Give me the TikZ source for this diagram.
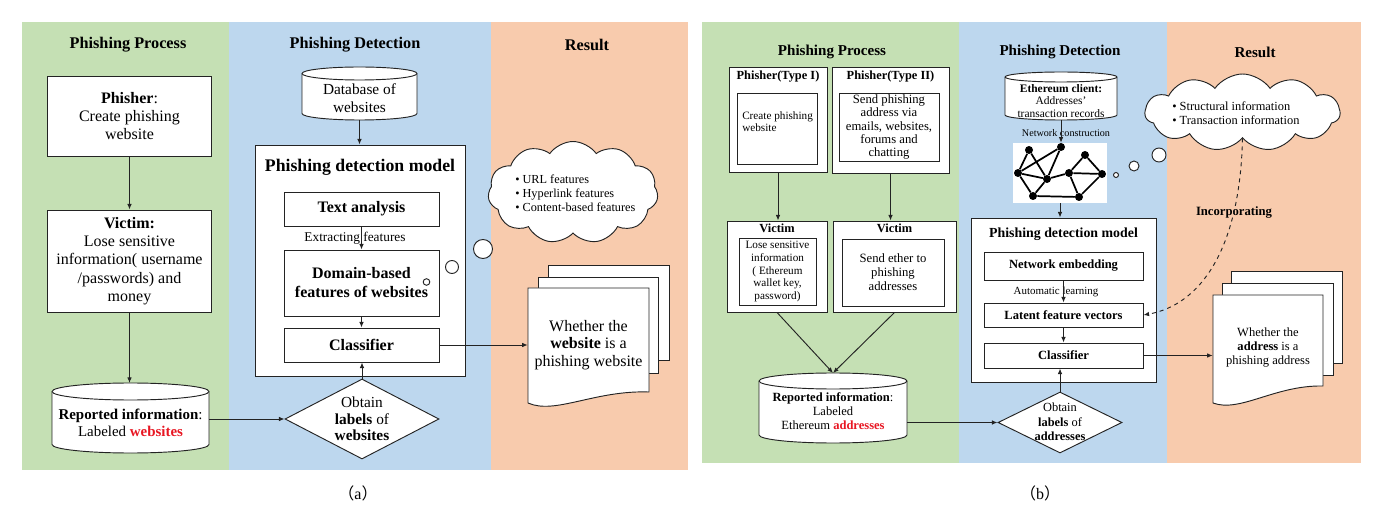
\documentclass[tikz,border=0pt]{standalone}
\usepackage{fontspec}
\setmainfont{Liberation Serif}
\newfontfamily\cjk{Noto Sans CJK SC}
\usetikzlibrary{arrows.meta,shapes.geometric,shapes.symbols,calc}
\newlength\pu
\setlength\pu{0.75pt}
\newcommand\myfs[2]{\fontsize{#1}{#2}\selectfont}
\newcommand\drawcyl[3]{% node name, x radius, y radius (px)
  \draw[ln, fill=white] ($(#1.north west)+(0,#3)$) -- ($(#1.south west)+(0,-#3)$)
    arc[start angle=180, end angle=0, x radius=#2, y radius=#3]
    -- ($(#1.north east)+(0,#3)$)
    arc[start angle=0, end angle=-180, x radius=#2, y radius=#3] -- cycle;
  \draw[ln] ($(#1.north west)+(0,#3)$) arc[start angle=180, end angle=0, x radius=#2, y radius=#3];
}
\definecolor{bgG}{RGB}{197,224,180}
\definecolor{bgB}{RGB}{189,215,238}
\definecolor{bgP}{RGB}{248,203,173}
\definecolor{redT}{RGB}{232,22,34}
\definecolor{lineC}{RGB}{35,35,35}
\tikzset{
  ln/.style={draw=lineC, line width=0.7pt},
  box/.style={ln, fill=white, inner sep=0pt, align=center},
  txt/.style={inner sep=0pt, align=center},
  arr/.style={ln, -{Latex[length=4.2pt,width=3.4pt]}},
  cylnode/.style={inner sep=0pt, outer sep=0pt},
  dia/.style={diamond, ln, fill=white, inner sep=0pt},
  cld/.style={cloud, cloud puffs=11, cloud puff arc=110, cloud ignores aspect, ln, fill=white, inner sep=0pt},
  bub/.style={circle, ln, fill=white, inner sep=0pt},
  gdot/.style={circle, fill=black, inner sep=0pt, minimum size=8\pu},
  gedge/.style={draw=black, line width=1.3pt},
  page/.style={ln, fill=white},
  ttlA/.style={txt, font=\bfseries\myfs{12.2}{14}},
  ttlB/.style={txt, font=\bfseries\myfs{11.3}{13}},
}
\begin{document}
\begin{tikzpicture}[x=0.75pt,y=-0.75pt]
\useasboundingbox (0,0) rectangle (1388,509);
\fill[white] (0,0) rectangle (1388,509);
% ---------------- backgrounds
\fill[bgG] (22,22) rectangle (229,470);
\fill[bgB] (229,22) rectangle (491,470);
\fill[bgP] (491,22) rectangle (688,470);
\fill[bgG] (702,22) rectangle (959,463);
\fill[bgB] (959,22) rectangle (1167,463);
\fill[bgP] (1167,22) rectangle (1361,463);

% ================= panel (a)
\node[ttlA] (tA1) at (128,45) {Phishing Process};
\node[ttlA] (tA2) at (355,45) {Phishing Detection};
\node[ttlA] (tA3) at (587,45) {Result};

\node[box, minimum width=164\pu, minimum height=80\pu, font=\myfs{12}{13.5}] (phA) at (129.5,116) {\textbf{Phisher}:\\Create phishing\\website};
\node[box, minimum width=164\pu, minimum height=102\pu, font=\myfs{12}{13.8}] (viA) at (129.5,261) {\textbf{Victim:}\\Lose sensitive\\information( username\\/passwords) and\\money};
\node[cylnode, minimum width=157\pu, minimum height=70\pu] (repA) at (130.5,418) {};
\drawcyl{repA}{78.5}{8.5}
\node[txt, font=\myfs{11.2}{12.8}] (repAt) at (130.5,423) {\textbf{Reported information}:\\Labeled \textcolor{redT}{\textbf{websites}}};

\node[cylnode, minimum width=115\pu, minimum height=53\pu] (dbA) at (359.5,93.5) {};
\drawcyl{dbA}{57.5}{6.5}
\node[txt, font=\myfs{11.5}{13.5}] (dbAt) at (359.5,98.5) {Database of\\websites};

\node[box, minimum width=210\pu, minimum height=231\pu] (mdA) at (360,260.5) {};
\node[txt, font=\bfseries\myfs{13.3}{15}] (mdAt) at (360,167) {Phishing detection model};
\node[box, minimum width=155\pu, minimum height=34\pu, font=\bfseries\myfs{12}{14}] (taA) at (361.5,209) {Text analysis};
\node[txt, font=\myfs{10}{12}] (exA) at (355,238) {Extracting features};
\node[box, minimum width=155\pu, minimum height=66\pu, font=\bfseries\myfs{12}{14.2}] (doA) at (361.5,283) {Domain-based\\features of websites};
\node[box, minimum width=155\pu, minimum height=34\pu, font=\bfseries\myfs{12}{14}] (clA) at (361.5,345) {Classifier};
\node[dia, minimum width=154\pu, minimum height=80\pu] (diA) at (362,419) {};
\node[txt, font=\myfs{11.5}{12.4}] (diAt) at (362,419) {Obtain\\\textbf{labels} of\\\textbf{websites}};

\node[bub, minimum size=6.6\pu] (bA1) at (426.5,282) {};
\node[bub, minimum size=13\pu] (bA2) at (452,267) {};
\node[bub, minimum size=19\pu] (bA3) at (483,249) {};
\node[cld, minimum width=170\pu, minimum height=102\pu] (cA) at (573,192.5) {};
\node[txt, align=left, anchor=west, font=\myfs{9.2}{10.5}] (cAt) at (515,193) {\textbullet\ URL features\\\textbullet\ Hyperlink features\\\textbullet\ Content-based features};

\draw[page] (548,265) rectangle (669,360);
\draw[page] (538,277) rectangle (658,373);
\draw[page] (528,288) -- (649,288) -- (649,392) .. controls (595,390) and (555,415) .. (528,403) -- cycle;
\node[txt, minimum width=121\pu, minimum height=110\pu, font=\myfs{12}{13.3}] (dfA) at (588.5,345) {Whether the\\\textbf{website} is a\\phishing website};

\draw[arr] (phA) -- (viA);
\draw[arr] (viA.south) -- (viA.south |- repA.north);
\draw[arr] (repA.east |- diA.west) -- (diA.west);
\draw[arr] (dbA.south) -- (dbA.south |- mdA.north);
\draw[arr] (taA) -- (doA);
\draw[arr] (doA) -- (clA);
\draw[arr] (diA.north) -- (diA.north |- clA.south);
\draw[arr] (clA.east) -- (clA.east -| dfA.west);

\node[txt, font=\myfs{12}{14}] (capA) at (358,493) {{\cjk （}a{\cjk ）}};

% ================= panel (b)
\node[ttlB] (tB1) at (832,52) {Phishing Process};
\node[ttlB] (tB2) at (1060,52) {Phishing Detection};
\node[ttlB] (tB3) at (1255,52) {Result};

\node[box, minimum width=98\pu, minimum height=105\pu] (phB1) at (778,119.5) {};
\node[txt, font=\bfseries\myfs{9.3}{11}] (phB1t) at (778,77) {Phisher(Type I)};
\node[box, minimum width=80\pu, minimum height=71\pu] (phB1i) at (777,128.5) {};
\node[txt, align=left, anchor=west, font=\myfs{8.4}{9.2}] (phB1x) at (742,122) {Create phishing\\website};

\node[box, minimum width=117\pu, minimum height=106\pu] (phB2) at (890.5,120) {};
\node[txt, font=\bfseries\myfs{9.3}{11}] (phB2t) at (890.5,77) {Phisher(Type II)};
\node[box, minimum width=100\pu, minimum height=68\pu, font=\myfs{9.5}{10.1}] (phB2i) at (889,127) {Send phishing\\address via\\emails, websites,\\forums and\\chatting};

\node[box, minimum width=100\pu, minimum height=91\pu] (viB1) at (777,266.5) {};
\node[txt, font=\bfseries\myfs{9.3}{11}] (viB1t) at (777,228) {Victim};
\node[box, minimum width=77\pu, minimum height=67\pu, font=\myfs{8.4}{9.4}] (viB1i) at (777.5,271.5) {Lose sensitive\\information\\( Ethereum\\wallet key,\\password)};

\node[box, minimum width=123\pu, minimum height=91\pu] (viB2) at (894.5,266.5) {};
\node[txt, font=\bfseries\myfs{9.3}{11}] (viB2t) at (894.5,228) {Victim};
\node[box, minimum width=102\pu, minimum height=67\pu, font=\myfs{9.5}{10.5}] (viB2i) at (893,272.5) {Send ether to\\phishing\\addresses};

\node[cylnode, minimum width=148\pu, minimum height=70\pu] (repB) at (833,408) {};
\drawcyl{repB}{74}{8}
\node[txt, font=\myfs{9.4}{10.5}] (repBt) at (833,411.5) {\textbf{Reported information}:\\Labeled\\Ethereum \textcolor{redT}{\textbf{addresses}}};

\node[dia, minimum width=124\pu, minimum height=61\pu] (diB) at (1060,422.5) {};
\node[txt, font=\myfs{9.3}{10.8}] (diBt) at (1060,422) {Obtain\\\textbf{labels} of\\\textbf{addresses}};

\node[cylnode, minimum width=112\pu, minimum height=48\pu] (ecB) at (1061,96) {};
\drawcyl{ecB}{56}{5}
\node[txt, font=\myfs{8.6}{9.2}] (ecBt) at (1061,101) {\textbf{Ethereum client:}\\Addresses’\\transaction records};
\node[txt, font=\myfs{7.6}{9}] (ncB) at (1066,133) {Network construction};

\node[fill=white, inner sep=0pt, minimum width=94\pu, minimum height=60\pu] (gB) at (1060,173) {};
\node[gdot] (g1) at (1029,150) {};
\node[gdot] (g2) at (1061,147) {};
\node[gdot] (g3) at (1018,173) {};
\node[gdot] (g4) at (1047,179) {};
\node[gdot] (g5) at (1069,173) {};
\node[gdot] (g6) at (1085,155) {};
\node[gdot] (g7) at (1102,174) {};
\node[gdot] (g8) at (1033,196) {};
\node[gdot] (g9) at (1079,197) {};
\draw[gedge] (g1) -- (g3) (g1) -- (g4) (g2) -- (g3) (g2) -- (g4) (g3) -- (g4)
  (g3) -- (g8) (g4) -- (g8) (g4) -- (g5) (g5) -- (g6) (g6) -- (g7) (g5) -- (g7)
  (g5) -- (g9) (g9) -- (g7) (g8) -- (g9);

\node[box, minimum width=185\pu, minimum height=164\pu] (mdB) at (1063.5,300) {};
\node[txt, font=\bfseries\myfs{10.4}{12}] (mdBt) at (1063.5,234) {Phishing detection model};
\node[box, minimum width=159\pu, minimum height=28\pu, font=\bfseries\myfs{9.4}{11}] (neB) at (1063.5,266) {Network embedding};
\node[txt, font=\myfs{8.2}{10}] (alB) at (1056,292) {Automatic learning};
\node[box, minimum width=159\pu, minimum height=24\pu, font=\bfseries\myfs{9.4}{11}] (ltB) at (1063.5,315) {Latent feature vectors};
\node[box, minimum width=159\pu, minimum height=25\pu, font=\bfseries\myfs{9.4}{11}] (clB) at (1063.5,355.5) {Classifier};

\node[bub, minimum size=5\pu] (bB1) at (1116,175) {};
\node[bub, minimum size=10\pu] (bB2) at (1134,166) {};
\node[bub, minimum size=14\pu] (bB3) at (1159,155) {};
\node[cld, minimum width=195\pu, minimum height=77\pu] (cB) at (1242.5,112.5) {};
\node[txt, align=left, anchor=west, font=\myfs{9.3}{10.5}] (cBt) at (1172,113) {\textbullet\ Structural information\\\textbullet\ Transaction information};
\node[txt, font=\bfseries\myfs{9.5}{11}] (incB) at (1234,213) {Incorporating};

\draw[page] (1231,271) rectangle (1342,363);
\draw[page] (1222,283) rectangle (1333,375);
\draw[page] (1213,295) -- (1323,295) -- (1323,386) .. controls (1275,385) and (1240,413) .. (1213,403) -- cycle;
\node[txt, minimum width=110\pu, minimum height=100\pu, font=\myfs{9.4}{10.5}] (dfB) at (1268,348) {Whether the\\\textbf{address} is a\\phishing address};

\draw[arr] (phB1.south) -- (phB1.south |- viB1.north);
\draw[arr] (phB2.south) -- (phB2.south |- viB2.north);
\draw[arr] (viB1.south) -- (repB.north);
\draw[arr] (viB2.south) -- (repB.north);
\draw[arr] (repB.east |- diB.west) -- (diB.west);
\draw[arr] (diB.north) -- (diB.north |- clB.south);
\draw[arr] (ecB.south) -- (ecB.south |- gB.north);
\draw[arr] (gB.south) -- (gB.south |- mdB.north);
\draw[arr] (neB) -- (ltB);
\draw[arr] (ltB) -- (clB);
\draw[arr] (clB.east) -- (clB.east -| dfB.west);
\draw[arr, dashed] (cB.south) .. controls (1240,250) and (1200,305) .. (ltB.east);

\node[txt, font=\myfs{12}{14}] (capB) at (1040,493) {{\cjk （}b{\cjk ）}};
\end{tikzpicture}
\end{document}
